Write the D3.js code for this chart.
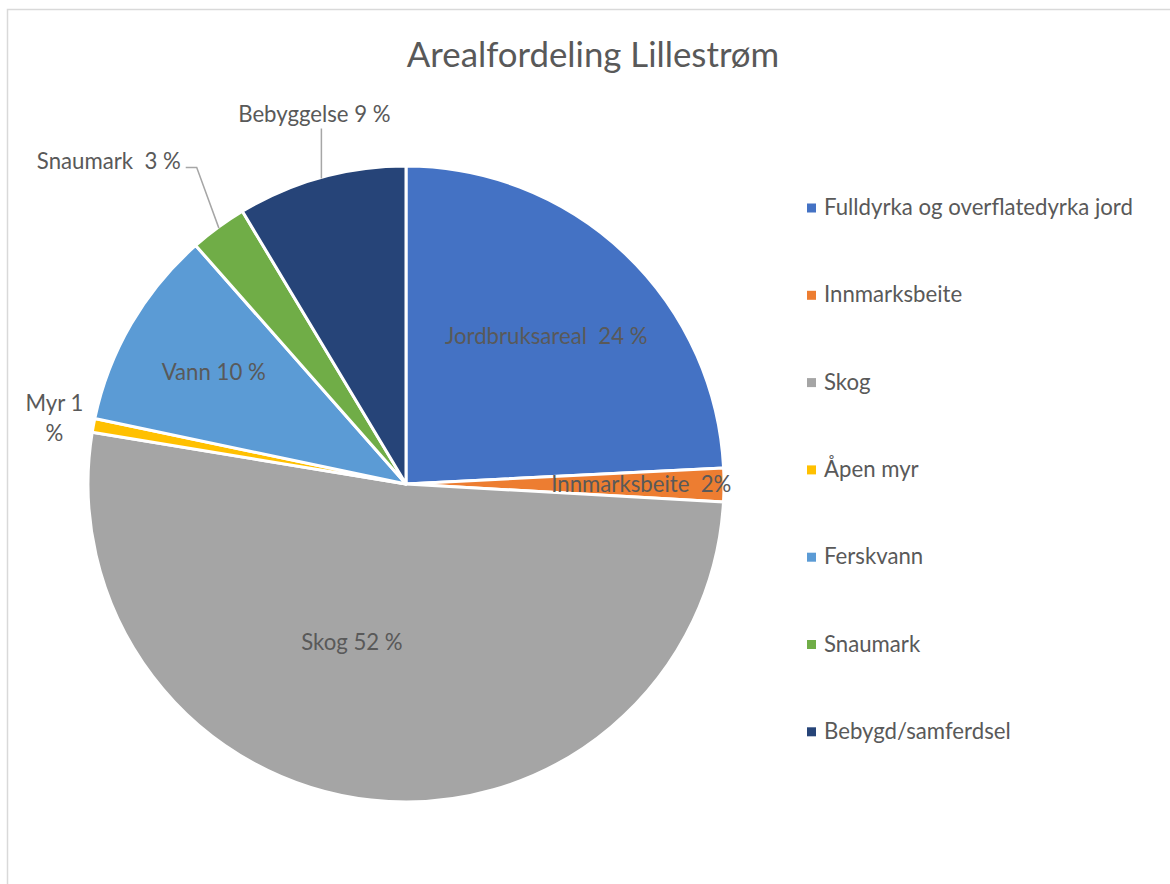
<!DOCTYPE html>
<html>
<head>
<meta charset="utf-8">
<script src="https://cdn.jsdelivr.net/npm/d3@7"></script>
<style>
  body { margin: 0; background: #fff; }
  text { font-family: Lato, "Noto Sans", sans-serif; fill: #595959; white-space: pre; }
</style>
</head>
<body>
<svg id="chart" width="1170" height="884"></svg>
<script>
// data (share of area, %)
var categories = ["Fulldyrka og overflatedyrka jord", "Innmarksbeite", "Skog", "Åpen myr", "Ferskvann", "Snaumark", "Bebygd/samferdsel"];
var values = [24.2, 1.7, 51.7, 0.7, 10.2, 2.9, 8.6];
var sliceLabels = ["Jordbruksareal  24 %", "Innmarksbeite  2%", "Skog 52 %", "Myr 1|%", "Vann 10 %", "Snaumark  3 %", "Bebyggelse 9 %"];
var colors = ["#4472C4", "#ED7D31", "#A5A5A5", "#FFC000", "#5B9BD5", "#70AD47", "#264478"];

// ------------------ layout ------------------
var cx = 406, cy = 484, R = 318;
var fs = "22.2px";
var svg = d3.select("#chart");

svg.append("rect")
  .attr("x", 7.5).attr("y", 9.5)
  .attr("width", 1200).attr("height", 900)
  .attr("fill", "none").attr("stroke", "#d9d9d9").attr("stroke-width", 1.5);

svg.append("text")
  .attr("x", 593).attr("y", 58)
  .attr("text-anchor", "middle").attr("dominant-baseline", "middle")
  .style("font-size", "34.8px")
  .text("Arealfordeling Lillestrøm");

var data = categories.map(function(c, i) { return {name: c, value: values[i], label: sliceLabels[i], color: colors[i]}; });

var pie = d3.pie().sort(null).value(function(d) { return d.value; });
var arc = d3.arc().innerRadius(0).outerRadius(R);
var arcs = pie(data);

var g = svg.append("g").attr("transform", "translate(" + cx + "," + cy + ")");

g.selectAll("path.slice")
  .data(arcs)
  .enter().append("path")
  .attr("class", "slice")
  .attr("d", arc)
  .attr("fill", function(d) { return d.data.color; })
  .attr("stroke", "#fff")
  .attr("stroke-width", 3)
  .attr("stroke-linejoin", "round");

function polar(a, r) { return [r * Math.sin(a), -r * Math.cos(a)]; }
function mid(d) { return (d.startAngle + d.endAngle) / 2; }

// label placement (radius as share of R, small angle shift in degrees)
var labelPlace = [
  {r: 0.64, da: 0},
  {r: 0.74, da: 0},
  {r: 0.525, da: 12.6},
  {r: 1.125, da: 0},
  {r: 0.70, da: 0},
  null,
  null
];

var labels = g.append("g");
arcs.forEach(function(d, i) {
  var p = labelPlace[i];
  if (!p) return;
  var pt = polar(mid(d) + p.da * Math.PI / 180, p.r * R);
  var lines = d.data.label.split("|");
  var t = labels.append("text")
    .attr("text-anchor", "middle")
    .style("font-size", fs);
  lines.forEach(function(l, k) {
    t.append("tspan")
      .attr("x", pt[0])
      .attr("y", pt[1] + 2 + (k - (lines.length - 1) / 2) * 30)
      .attr("dominant-baseline", "middle")
      .text(l);
  });
});

// leader lines for the two small top slices
var snau = arcs[5], beb = arcs[6];
var s0 = polar(mid(snau), R - 1);
var s1 = polar(mid(snau) + 2.7 * Math.PI / 180, 1.193 * R);
var s2 = [s1[0] - 11, s1[1]];
g.append("path")
  .attr("d", d3.line()([s0, s1, s2]))
  .attr("fill", "none").attr("stroke", "#a6a6a6").attr("stroke-width", 1.5);
labels.append("text")
  .attr("x", s2[0] - 5).attr("y", s2[1] - 4)
  .attr("text-anchor", "end").attr("dominant-baseline", "middle")
  .style("font-size", fs)
  .text(snau.data.label);

var b0 = polar(mid(beb), R - 1);
var b1 = [b0[0], b0[1] - 50];
g.append("path")
  .attr("d", d3.line()([b0, b1]))
  .attr("fill", "none").attr("stroke", "#a6a6a6").attr("stroke-width", 1.5);
labels.append("text")
  .attr("x", b1[0] - 7).attr("y", b1[1] - 12)
  .attr("text-anchor", "middle").attr("dominant-baseline", "middle")
  .style("font-size", fs)
  .text(beb.data.label);

// legend
var legend = svg.append("g").attr("transform", "translate(807,208)");
var item = legend.selectAll("g.item")
  .data(data)
  .enter().append("g")
  .attr("class", "item")
  .attr("transform", function(d, i) { return "translate(0," + (i * 87.3) + ")"; });
item.append("rect")
  .attr("x", 0).attr("y", -4.5)
  .attr("width", 9).attr("height", 9)
  .attr("fill", function(d) { return d.color; });
item.append("text")
  .attr("x", 17).attr("y", 1.5)
  .attr("dominant-baseline", "middle")
  .style("font-size", fs)
  .text(function(d) { return d.name; });
</script>
</body>
</html>
